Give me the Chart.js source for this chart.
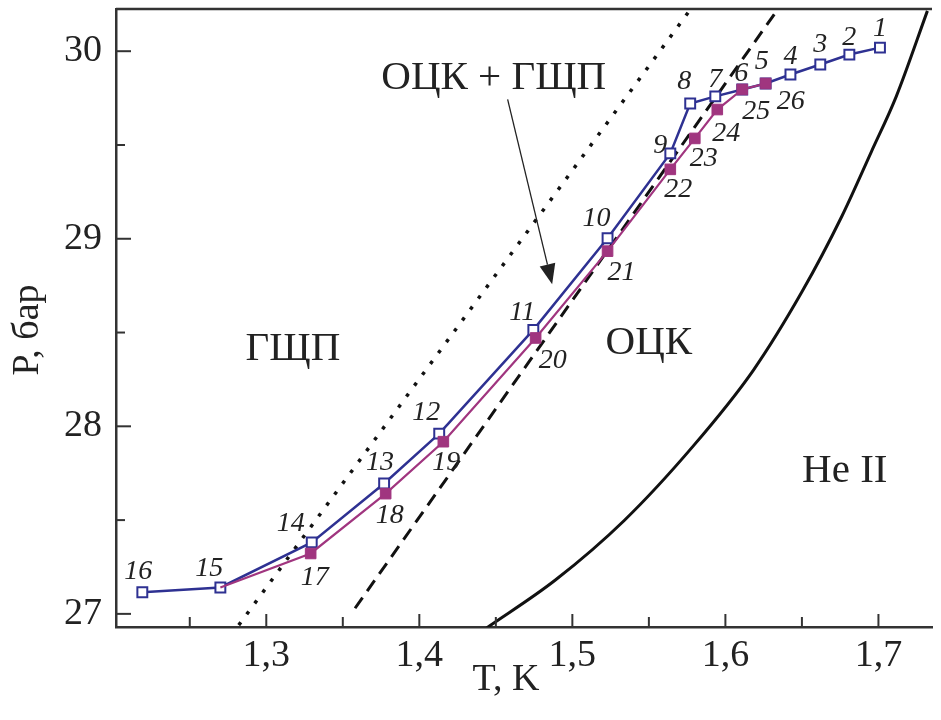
<!DOCTYPE html>
<html>
<head>
<meta charset="utf-8">
<script src="https://cdn.jsdelivr.net/npm/chart.js@4.4.0/dist/chart.umd.min.js"></script>
<style>
  html, body { margin: 0; padding: 0; background: #fff; }
  #wrap { width: 941px; height: 720px; }
</style>
</head>
<body>
<div id="wrap"><canvas id="c" width="941" height="720"></canvas></div>
<script>
// Фазовая диаграмма He: P(T), области ГЩП / ОЦК / He II.

// ---- данные ----
const blueNum = ['1', '2', '3', '4', '5', '6', '7', '8', '9', '10', '11', '12', '13', '14', '15', '16'];
const blueT = [1.701, 1.681, 1.662, 1.6425, 1.6263, 1.611, 1.5934, 1.577, 1.564, 1.523, 1.4745, 1.413, 1.377, 1.3297, 1.270, 1.219];
const blueP = [30.019, 29.982, 29.929, 29.876, 29.828, 29.796, 29.759, 29.721, 29.455, 29.003, 28.514, 27.961, 27.695, 27.381, 27.141, 27.115];

// магентовая серия начинается в точке 15
const magNum = ['', '17', '18', '19', '20', '21', '22', '23', '24', '25', '26'];
const magT = [1.270, 1.329, 1.378, 1.4157, 1.476, 1.523, 1.564, 1.580, 1.5947, 1.611, 1.6263];
const magP = [27.141, 27.322, 27.641, 27.918, 28.471, 28.934, 29.370, 29.535, 29.689, 29.796, 29.828];

const hcpT = [1.282, 1.577];      // пунктир (точки)
const hcpP = [26.94, 30.221];
const bccT = [1.358, 1.634];      // штрих
const bccP = [27.03, 30.221];
const lambdaT = [1.4440, 1.4887, 1.5339, 1.5792, 1.6180, 1.6503, 1.6761, 1.6955, 1.7116, 1.7320];
const lambdaP = [26.925, 27.179, 27.498, 27.897, 28.296, 28.721, 29.120, 29.466, 29.758, 30.215];

const xTicks = [1.3, 1.4, 1.5, 1.6, 1.7];
const xTickText = ['1,3', '1,4', '1,5', '1,6', '1,7'];
const xMinor = [1.25, 1.35, 1.45, 1.55, 1.65];
const yTicks = [27, 28, 29, 30];
const yMinor = [27.5, 28.5, 29.5];

const regionText = ['ГЩП', 'ОЦК', 'He II', 'ОЦК + ГЩП'];
const regionT = [1.3174, 1.550, 1.678, 1.4486];
const regionP = [28.413, 28.444, 27.763, 29.854];

const arrowT = [1.4577, 1.4868];
const arrowP = [29.743, 28.758];

// ---- оформление ----
const SERIF = '"Liberation Serif", "Times New Roman", serif';
const BLUE = '#2e3192';
const MAG = '#a0357f';
const INK = '#222';

// сдвиги подписей номеров точек, px
const blueDx = [0, 0, 0, 0, -4, -1, 0, -6, -10, -11, -11, -13, -4, -21, -11, -4];
const blueDy = [-19, -17, -20, -18, -22, -16, -17, -22, -8, -20, -17, -21, -21, -19, -19, -21];
const magDx = [0, 4, 4, 3, 17, 14, 8, 9, 9, 14, 25];
const magDy = [0, 24, 22, 21, 23, 22, 20, 20, 24, 22, 18];

const pts = (xs, ys) => xs.map((x, i) => ({ x, y: ys[i] }));

const frame = {
  id: 'frame',
  afterDraw(chart) {
    const { ctx, chartArea: a, scales: { x, y } } = chart;
    ctx.save();
    ctx.strokeStyle = '#333';
    ctx.lineWidth = 2.5;
    ctx.beginPath();
    ctx.moveTo(a.left, a.top);
    ctx.lineTo(a.right, a.top);
    ctx.stroke();

    ctx.lineWidth = 2;
    const tick = (v, len, horiz) => {
      ctx.beginPath();
      if (horiz) {
        const px = x.getPixelForValue(v);
        ctx.moveTo(px, a.bottom); ctx.lineTo(px, a.bottom - len);
      } else {
        const py = y.getPixelForValue(v);
        ctx.moveTo(a.left, py); ctx.lineTo(a.left + len, py);
      }
      ctx.stroke();
    };
    xTicks.forEach(v => tick(v, 13, true));
    xMinor.forEach(v => tick(v, 10, true));
    yTicks.forEach(v => tick(v, 15, false));
    yMinor.forEach(v => tick(v, 9, false));

    // стрелка
    const x1 = x.getPixelForValue(arrowT[0]), y1 = y.getPixelForValue(arrowP[0]);
    const x2 = x.getPixelForValue(arrowT[1]), y2 = y.getPixelForValue(arrowP[1]);
    const ang = Math.atan2(y2 - y1, x2 - x1);
    const L = 20, W = 8;
    ctx.strokeStyle = '#222';
    ctx.lineWidth = 1.3;
    ctx.beginPath();
    ctx.moveTo(x1, y1);
    ctx.lineTo(x2 - L * Math.cos(ang), y2 - L * Math.sin(ang));
    ctx.stroke();
    ctx.fillStyle = '#222';
    ctx.beginPath();
    ctx.moveTo(x2, y2);
    ctx.lineTo(x2 - L * Math.cos(ang) + W * Math.sin(ang), y2 - L * Math.sin(ang) - W * Math.cos(ang));
    ctx.lineTo(x2 - L * Math.cos(ang) - W * Math.sin(ang), y2 - L * Math.sin(ang) + W * Math.cos(ang));
    ctx.closePath();
    ctx.fill();

    // подписи областей
    ctx.fillStyle = INK;
    ctx.font = '41px ' + SERIF;
    ctx.textAlign = 'center';
    ctx.textBaseline = 'middle';
    regionText.forEach((t, i) => {
      ctx.fillText(t, x.getPixelForValue(regionT[i]), y.getPixelForValue(regionP[i]));
    });

    // номера точек
    ctx.font = 'italic 28px ' + SERIF;
    const num = (labels, xs, ys, dx, dy) => labels.forEach((t, i) => {
      if (!t) return;
      ctx.fillText(t, x.getPixelForValue(xs[i]) + dx[i], y.getPixelForValue(ys[i]) + dy[i]);
    });
    num(blueNum, blueT, blueP, blueDx, blueDy);
    num(magNum, magT, magP, magDx, magDy);

    // названия осей
    ctx.font = '38px ' + SERIF;
    ctx.fillText('T, K', 506, 680);
    ctx.translate(28, 330);
    ctx.rotate(-Math.PI / 2);
    ctx.fillText('P, бар', 0, 0);
    ctx.restore();
  }
};

const chart = new Chart(document.getElementById('c'), {
  type: 'scatter',
  data: {
    datasets: [
      {
        data: pts(magT, magP), showLine: true,
        borderColor: MAG, borderWidth: 2.2,
        pointStyle: 'rect', pointRadius: magT.map((_, i) => i === 0 ? 0 : 7.5),
        pointBackgroundColor: MAG, pointBorderColor: MAG, pointBorderWidth: 1,
      },
      {
        data: pts(blueT, blueP), showLine: true,
        borderColor: BLUE, borderWidth: 2.5,
        pointStyle: 'rect', pointRadius: 7,
        pointBackgroundColor: '#fff', pointBorderColor: BLUE, pointBorderWidth: 2,
      },
      {
        data: pts(lambdaT, lambdaP), showLine: true,
        borderColor: '#111', borderWidth: 3, pointRadius: 0,
        cubicInterpolationMode: 'monotone',
      },
      {
        data: pts(bccT, bccP), showLine: true,
        borderColor: '#111', borderWidth: 3, borderDash: [13, 8], pointRadius: 0,
      },
      {
        data: pts(hcpT, hcpP), showLine: true,
        borderColor: '#111', borderWidth: 3.5, borderDash: [3.5, 10], pointRadius: 0,
      },
    ],
  },
  options: {
    responsive: false,
    animation: false,
    devicePixelRatio: 1,
    layout: { padding: { top: 7, right: 0, bottom: 0, left: 0 } },
    plugins: { legend: { display: false }, tooltip: { enabled: false } },
    scales: {
      x: {
        type: 'linear', min: 1.2018, max: 1.735,
        grid: { display: false, drawTicks: false },
        border: { display: true, color: '#333', width: 2.5 },
        afterBuildTicks: s => { s.ticks = xTicks.map(v => ({ value: v })); },
        ticks: {
          padding: 6, color: INK, font: { family: SERIF, size: 38 },
          callback: v => xTickText[xTicks.indexOf(v)] ?? '',
        },
        afterFit: s => { s.height = 93; s.paddingLeft = 0; s.paddingRight = 0; },
      },
      y: {
        type: 'linear', min: 26.93, max: 30.225,
        grid: { display: false, drawTicks: false },
        border: { display: true, color: '#333', width: 2.5 },
        afterBuildTicks: s => { s.ticks = yTicks.map(v => ({ value: v })); },
        ticks: { padding: 14, color: INK, font: { family: SERIF, size: 38 } },
        afterFit: s => { s.width = 116; s.paddingTop = 0; s.paddingBottom = 0; },
      },
    },
  },
  plugins: [frame],
});
</script>
</body>
</html>
